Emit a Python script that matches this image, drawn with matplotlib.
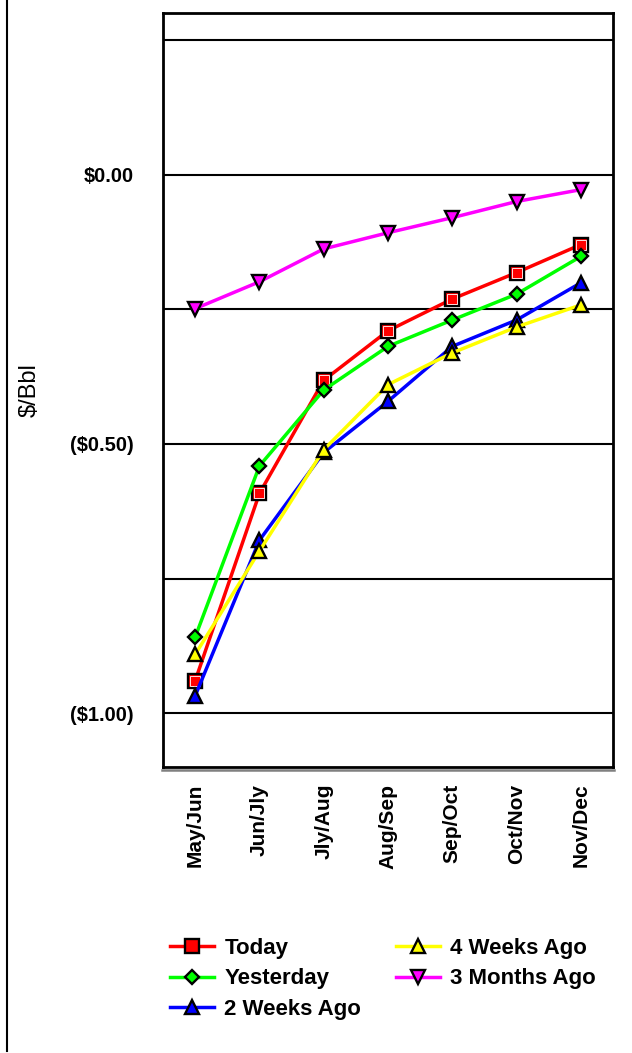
import matplotlib
matplotlib.use('Agg')
import matplotlib.pyplot as plt
from matplotlib.lines import Line2D

# 数据
months = ['May/Jun', 'Jun/Jly', 'Jly/Aug', 'Aug/Sep', 'Sep/Oct', 'Oct/Nov', 'Nov/Dec']
today = [-0.940, -0.592, -0.382, -0.290, -0.231, -0.182, -0.130]
yesterday = [-0.859, -0.541, -0.400, -0.319, -0.270, -0.222, -0.152]
two_weeks = [-0.968, -0.679, -0.516, -0.421, -0.319, -0.270, -0.201]
four_weeks = [-0.891, -0.699, -0.511, -0.390, -0.331, -0.283, -0.242]
three_months = [-0.249, -0.199, -0.138, -0.108, -0.080, -0.050, -0.028]

ytick_vals = [-1.0, -0.5, 0.0]
ytick_labels = ['($1.00)', '($0.50)', '$0.00']
minor_vals = [-0.75, -0.25, 0.25]

plt.rcParams['font.family'] = ['Liberation Sans', 'DejaVu Sans']

fig = plt.figure(figsize=(6.32, 10.53), dpi=100)
ax = fig.add_axes([163 / 632, 1 - 767 / 1053, 450 / 632, 754 / 1053])

x = list(range(len(months)))
series = [
    (today, 'Today', '#ff0000', 's', 9.5),
    (yesterday, 'Yesterday', '#00ff00', 'D', 7),
    (two_weeks, '2 Weeks Ago', '#0000ff', '^', 9.5),
    (four_weeks, '4 Weeks Ago', '#ffff00', '^', 9.5),
    (three_months, '3 Months Ago', '#ff00ff', 'v', 9.5),
]
for vals, name, c, m, ms in series:
    ax.plot(x, vals, color=c, lw=2.5, marker=m, markersize=ms,
            markerfacecolor=c, markeredgecolor='black',
            markeredgewidth=1.7, label=name)
    if m == 's':
        # 方形标记内的白圈
        ax.plot(x, vals, ls='none', marker=m, markersize=ms - 2.2,
                markerfacecolor=c, markeredgecolor='white',
                markeredgewidth=0.6)

ax.set_xlim(-0.5, 6.5)
ax.set_ylim(-1.1, 0.3)
ax.set_xticks(x)
ax.set_xticklabels(months, rotation=90, fontsize=15, fontweight='bold')
ax.set_yticks(ytick_vals)
ax.set_yticklabels(ytick_labels, fontsize=14.5, fontweight='bold')
ax.set_yticks(minor_vals, minor=True)
ax.tick_params(axis='both', which='both', length=0)
ax.tick_params(axis='y', pad=21)
ax.tick_params(axis='x', pad=12)
ax.grid(axis='y', which='both', color='black', lw=1.5)
ax.set_axisbelow(True)
for s in ax.spines.values():
    s.set_linewidth(2)

# 坐标轴标签
fig.text(30 / 632, 1 - 390 / 1053, '$/Bbl', rotation=90, fontsize=17,
         ha='center', va='center')

# 阴影和左边线
fig.add_artist(Line2D([162 / 632, 614 / 632], [1 - 769.5 / 1053] * 2,
                      color='#808080', lw=1.8))
fig.add_artist(Line2D([7 / 632, 7 / 632], [1 - 1051 / 1053, 1],
                      color='black', lw=1.5))

# 图例
fig.legend(loc='upper left', bbox_to_anchor=(170 / 632, 1 - 938 / 1053),
           ncol=2, frameon=False, borderpad=0, borderaxespad=0,
           prop={'size': 16, 'weight': 'bold'}, handlelength=2.0,
           handletextpad=0.45, labelspacing=0.42, columnspacing=1.55)

plt.savefig('out.png', dpi=100)
